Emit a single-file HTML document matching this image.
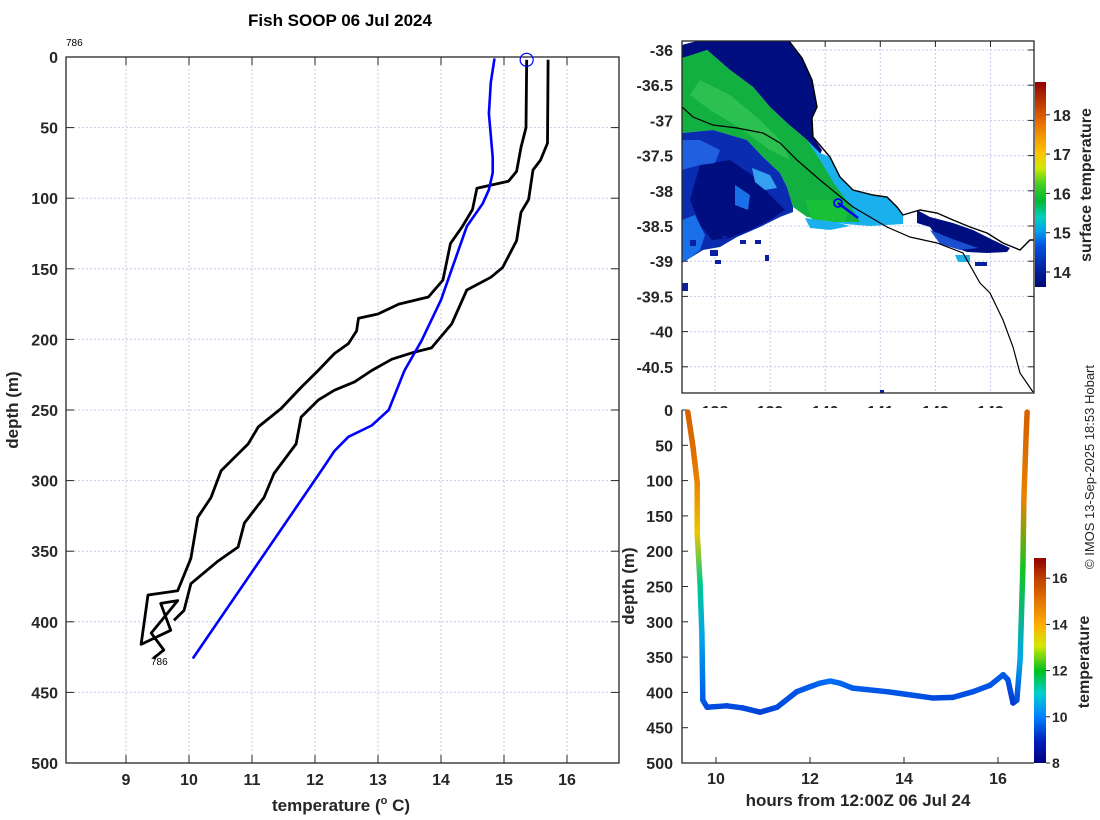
<!DOCTYPE html>
<html><head><meta charset="utf-8">
<style>
html,body{margin:0;padding:0;background:#fff;}
svg{display:block;font-family:"Liberation Sans","DejaVu Sans",sans-serif;}
.tk{font-size:16px;font-weight:bold;fill:#262626;}
.lbl{font-size:17px;font-weight:bold;fill:#262626;}
</style></head>
<body>
<svg id="fig" width="1100" height="820" viewBox="0 0 1100 820">
<defs>
<clipPath id="cl"><rect x="66" y="57" width="553" height="706"/></clipPath>
<clipPath id="cm"><rect x="682" y="41" width="352" height="352"/></clipPath>
<clipPath id="cb"><rect x="682" y="408" width="352" height="355"/></clipPath>
<linearGradient id="gmap" x1="0" y1="1" x2="0" y2="0">
<stop offset="0" stop-color="#000a78"/><stop offset="0.08" stop-color="#00209a"/><stop offset="0.2" stop-color="#0050e0"/><stop offset="0.27" stop-color="#00a0f0"/><stop offset="0.34" stop-color="#00d0c0"/><stop offset="0.42" stop-color="#00b830"/><stop offset="0.5" stop-color="#40d020"/><stop offset="0.58" stop-color="#d0e800"/><stop offset="0.66" stop-color="#ffc000"/><stop offset="0.8" stop-color="#e87000"/><stop offset="1" stop-color="#900000"/>
</linearGradient>
<linearGradient id="gtemp" x1="0" y1="1" x2="0" y2="0">
<stop offset="0" stop-color="#000080"/><stop offset="0.11" stop-color="#0020c0"/><stop offset="0.225" stop-color="#0080ff"/><stop offset="0.34" stop-color="#00d0d0"/><stop offset="0.45" stop-color="#00c020"/><stop offset="0.57" stop-color="#d0e800"/><stop offset="0.67" stop-color="#ffb000"/><stop offset="0.8" stop-color="#e07000"/><stop offset="0.9" stop-color="#c04000"/><stop offset="1" stop-color="#900000"/>
</linearGradient>
</defs>
<text x="340" y="26" text-anchor="middle" style="font-size:17px;font-weight:bold">Fish SOOP 06 Jul 2024</text>
<g id="left"></g>
<g id="map"></g>
<g id="bot"></g>
<text transform="translate(1094,467) rotate(-90)" text-anchor="middle" style="font-size:13px;fill:#262626">© IMOS 13-Sep-2025 18:53 Hobart</text>
</svg>
<script>
// ---------- Left profile data ----------
const xTicksL = [9,10,11,12,13,14,15,16];
const yTicksL = [0,50,100,150,200,250,300,350,400,450,500];
const blueT = [14.85,14.79,14.76,14.82,14.82,14.76,14.66,14.41,14.22,14.0,13.69,13.42,13.17,12.9,12.53,12.31,12.13,10.06];
const blueD = [1,18,40,71,82,94,104,120,144,172,201,222,250,261,269,279,291,426];
const blackAT = [15.36,15.35,15.27,15.2,15.07,14.57,14.5,14.34,14.15,14.03,13.8,13.33,13.0,12.69,12.66,12.53,12.31,12.05,11.78,11.46,11.1,10.94,10.51,10.35,10.14,10.03,9.82,9.35,9.24,9.71,9.55,9.82,9.4,9.6,9.43];
const blackAD = [2,50,64,81,88,93,108,120,132,158,170,175,182,185,194,203,210,222,234,249,262,274,293,312,326,355,378,381,416,406,387,385,408,420,426];
const blackBT = [15.7,15.69,15.58,15.46,15.39,15.27,15.2,14.98,14.79,14.41,14.17,13.85,13.58,13.22,12.9,12.63,12.31,12.05,11.78,11.7,11.35,11.19,10.88,10.78,10.46,10.03,9.92,9.76];
const blackBD = [2,61,73,80,101,110,130,149,156,165,189,206,209,214,222,230,236,243,255,274,295,312,330,347,357,373,392,399];
const markerT = [15.36], markerD = [2];
// ---------- Map data ----------
const lonTicks = [138,139,140,141,142,143];
const latTicks = [-36,-36.5,-37,-37.5,-38,-38.5,-39,-39.5,-40,-40.5];
const sstTicks = [14,15,16,17,18];
// ---------- Time-depth data ----------
const hours = [9.40,9.51,9.60,9.60,9.66,9.70,9.72,9.81,10.23,10.57,10.94,11.30,11.72,12.0,12.21,12.43,12.64,12.91,13.64,14.19,14.62,15.04,15.47,15.83,16.11,16.21,16.32,16.40,16.47,16.53,16.55,16.60,16.62];
const depths = [3,52,103,174,245,316,411,421,419,422,428,421,399,392,387,384,387,394,399,404,408,407,399,390,375,382,415,411,354,222,127,33,3];
const temps = [15.3,15.1,14.7,13.6,11.4,10.5,9.6,9.4,9.4,9.4,9.3,9.4,9.5,9.6,9.7,9.8,9.7,9.6,9.5,9.5,9.4,9.4,9.5,9.5,9.6,9.5,9.2,9.4,10.5,12.1,14.7,15.2,15.3];
const hourTicks = [10,12,14,16];
const depthTicksB = [0,50,100,150,200,250,300,350,400,450,500];
const tempTicks = [8,10,12,14,16];

const NS='http://www.w3.org/2000/svg';
function el(parent,tag,attrs,text){const e=document.createElementNS(NS,tag);for(const k in attrs)e.setAttribute(k,attrs[k]);if(text!==undefined)e.textContent=text;parent.appendChild(e);return e;}

// ===== Left panel =====
const L=document.getElementById('left');
const xL=t=>189+(t-10)*63.0, yL=d=>57+d*1.412;
el(L,'rect',{x:66,y:57,width:553,height:706,fill:'#fff'});
xTicksL.forEach(t=>{
  const g=el(L,'line',{x1:xL(t),x2:xL(t),y1:57,y2:763,stroke:'#c5cbe8','stroke-width':1,'stroke-dasharray':'2,2'});
  
  
  el(L,'line',{x1:xL(t),x2:xL(t),y1:57,y2:65,stroke:'#262626'});
  el(L,'line',{x1:xL(t),x2:xL(t),y1:763,y2:755,stroke:'#262626'});
  const tx=el(L,'text',{x:xL(t),y:785,'text-anchor':'middle',class:'tk'},String(t));
  
  
});
yTicksL.forEach(d=>{
  if(d>0&&d<500){const g=el(L,'line',{x1:66,x2:619,y1:yL(d),y2:yL(d),stroke:'#c5cbe8','stroke-width':1,'stroke-dasharray':'2,2'});
  
  }
  el(L,'line',{x1:66,x2:74,y1:yL(d),y2:yL(d),stroke:'#262626'});
  el(L,'line',{x1:619,x2:611,y1:yL(d),y2:yL(d),stroke:'#262626'});
  const tx=el(L,'text',{x:58,y:yL(d)+6,'text-anchor':'end',class:'tk'},String(d));
  
  
});
el(L,'rect',{x:66,y:57,width:553,height:706,fill:'none',stroke:'#262626','stroke-width':1.3});
function poly(T,D){return T.map((t,i)=>xL(t).toFixed(1)+','+yL(D[i]).toFixed(1)).join(' ');}
const gl=el(L,'g',{'clip-path':'url(#cl)'});
const pa=el(gl,'polyline',{points:poly(blackAT,blackAD),fill:'none',stroke:'#000','stroke-width':2.8,'stroke-linejoin':'round'});


const pb=el(gl,'polyline',{points:poly(blackBT,blackBD),fill:'none',stroke:'#000','stroke-width':2.8,'stroke-linejoin':'round'});


const pbl=el(gl,'polyline',{points:poly(blueT,blueD),fill:'none',stroke:'#0000ff','stroke-width':2.6,'stroke-linejoin':'round'});


const mk=el(L,'circle',{cx:xL(markerT[0]),cy:yL(markerD[0]),r:6.5,fill:'none',stroke:'#0000ff','stroke-width':1.2});


el(L,'text',{x:66,y:46,style:'font-size:10px'},'786');
el(L,'text',{x:151,y:665,style:'font-size:10px'},'786');
const xl=el(L,'text',{x:341,y:811,'text-anchor':'middle',class:'lbl'});
xl.innerHTML='temperature (<tspan dy="-7" style="font-size:11px">o</tspan><tspan dy="7"> C)</tspan>';


const yl=el(L,'text',{transform:'translate(18,410) rotate(-90)','text-anchor':'middle',class:'lbl'},'depth (m)');



// ===== Map =====
const M=document.getElementById('map');
const xM=lon=>715+(lon-138)*55.1, yM=lat=>50+(-36-lat)*70.4;
el(M,'rect',{x:682,y:41,width:352,height:352,fill:'#fff'});
lonTicks.forEach(l=>{el(M,'line',{x1:xM(l),x2:xM(l),y1:41,y2:393,stroke:'#c5cbe8','stroke-dasharray':'2,2'});
  el(M,'line',{x1:xM(l),x2:xM(l),y1:41,y2:47,stroke:'#262626'});
  const tx=el(M,'text',{x:xM(l),y:417,'text-anchor':'middle',class:'tk'},String(l));
  
  });
latTicks.forEach(l=>{el(M,'line',{x1:682,x2:1034,y1:yM(l),y2:yM(l),stroke:'#c5cbe8','stroke-dasharray':'2,2'});
  el(M,'line',{x1:1034,x2:1028,y1:yM(l),y2:yM(l),stroke:'#262626'});
  el(M,'line',{x1:682,x2:688,y1:yM(l),y2:yM(l),stroke:'#262626'});
  const tx=el(M,'text',{x:673,y:yM(l)+6,'text-anchor':'end',class:'tk'},String(l));
  
  });
const gm=el(M,'g',{'clip-path':'url(#cm)'});
const blobs=[
 // top navy region
 ['#000e80','697,41 789,41 802,58 812,80 817,107 812,118 813,137 822,150 820,155 807,140 787,123 770,107 753,87 730,70 707,50 690,56 682,58 682,45'],
 // coastal light-blue strip
 ['#1ab0ee','807,140 820,153 830,157 840,177 853,190 873,195 887,197 897,207 903,215 903,224 870,226 845,224 833,222 815,190 800,160'],
 // green band
 ['#12b040','682,58 707,50 730,70 753,87 770,107 787,123 807,140 820,160 835,185 850,205 860,222 833,222 807,217 793,207 787,187 780,173 763,157 747,140 713,130 682,133'],
 ['#2cc050','700,80 730,95 760,120 780,140 790,160 770,150 740,128 710,110 690,95'],
 // lower-left dark region
 ['#0a2cb0','682,133 713,130 747,140 763,157 780,173 787,187 793,207 793,212 780,217 760,227 737,237 720,247 703,250 682,263'],
 ['#000e80','700,165 730,160 752,175 770,195 785,210 770,220 750,230 730,238 712,240 700,225 690,200'],
 ['#2060e0','682,140 700,140 720,150 715,163 700,165 682,170'],
 ['#35a0f0','752,168 770,175 777,188 765,190 755,182'],
 ['#1a70e8','682,220 695,215 705,235 700,250 690,258 682,262'],
 ['#1a70e8','735,185 750,195 748,210 735,205'],
 ['#18c038','805,200 830,200 848,212 845,222 812,220'],
 ['#1ab0ee','805,218 835,222 850,226 830,230 810,228'],
 // east navy patch
 ['#000e80','917,210 930,217 953,223 973,230 993,240 1010,248 1007,252 987,253 967,252 953,247 937,237 930,227 917,223'],
 ['#1a50d0','930,230 955,240 978,248 960,250 940,244'],
 ['#20b0e8','955,255 970,255 970,262 958,262']
];
blobs.forEach(b=>{const p=el(gm,'polygon',{points:b[1],fill:b[0]});
  
  });
[[710,250,8,6],[740,240,6,4],[755,240,6,4],[765,255,4,6],[682,283,6,8],[880,390,4,4],[975,262,12,4],[715,260,6,4],[690,240,6,6],[722,236,5,5]].forEach(r=>el(gm,'rect',{x:r[0],y:r[1],width:r[2],height:r[3],fill:'#0a20a0'}));
const coast=el(gm,'polyline',{points:'789,41 802,58 812,80 817,107 812,118 813,137 830,157 840,177 853,190 873,195 887,197 897,207 903,215 913,212 920,210 937,213 953,220 970,227 987,233 1003,243 1020,250 1030,240 1035,240',fill:'none',stroke:'#000','stroke-width':1.4});


const iso=el(gm,'polyline',{points:'682,107 693,117 713,125 737,128 763,133 780,143 797,160 820,180 853,207 887,227 910,237 937,243 963,253 980,283 990,293 1003,320 1013,347 1020,373 1033,392',fill:'none',stroke:'#000','stroke-width':1.2});


const trk=el(gm,'line',{x1:838,y1:203,x2:858,y2:218,stroke:'#0000ff','stroke-width':2.5});


el(gm,'circle',{cx:838,cy:203,r:4,fill:'none',stroke:'#0000ff','stroke-width':1.8});
el(M,'rect',{x:682,y:41,width:352,height:352,fill:'none',stroke:'#262626','stroke-width':1.3});
const yS=v=>272-(v-14)*39.3;
const cbm=el(M,'rect',{x:1035,y:82,width:11,height:205,fill:'url(#gmap)'});


sstTicks.forEach(v=>{el(M,'line',{x1:1046,x2:1050,y1:yS(v),y2:yS(v),stroke:'#262626'});
  const tx=el(M,'text',{x:1053,y:yS(v)+6,class:'tk'},String(v));
  
  });
el(M,'text',{transform:'translate(1091,185) rotate(-90)','text-anchor':'middle',class:'lbl',style:'font-size:16px'},'surface temperature');

// ===== Bottom time-depth =====
const B=document.getElementById('bot');
const xB=h=>716+(h-10)*47.0, yB=d=>410+d*0.706;
el(B,'rect',{x:682,y:408,width:352,height:355,fill:'#fff'});
hourTicks.forEach(h=>{el(B,'line',{x1:xB(h),x2:xB(h),y1:763,y2:757,stroke:'#262626'});
  const tx=el(B,'text',{x:xB(h),y:784,'text-anchor':'middle',class:'tk'},String(h));
  
  });
depthTicksB.forEach(d=>{el(B,'line',{x1:682,x2:688,y1:yB(d),y2:yB(d),stroke:'#262626'});
  const tx=el(B,'text',{x:673,y:yB(d)+6,'text-anchor':'end',class:'tk'},String(d));
  
  });
el(B,'polyline',{points:'682,410 682,763 1034,763',fill:'none',stroke:'#262626','stroke-width':1.3});
const stops=[[8,[0,0,128]],[9,[0,40,200]],[10,[0,128,255]],[11,[0,208,208]],[12,[0,192,32]],[13,[208,232,0]],[14,[255,176,0]],[15,[224,112,0]],[16,[192,64,0]],[17,[144,0,0]]];
function cmap(v){v=Math.max(8,Math.min(17,v));for(let i=0;i<stops.length-1;i++){const a=stops[i],b=stops[i+1];if(v<=b[0]){const f=(v-a[0])/(b[0]-a[0]);return 'rgb('+a[1].map((c,k)=>Math.round(c+(b[1][k]-c)*f)).join(',')+')';}}return 'rgb(144,0,0)';}
const defs=document.querySelector('defs');
const gb=el(B,'g',{'clip-path':'url(#cb)'});
for(let i=0;i<hours.length-1;i++){
  const x1=xB(hours[i]),y1=yB(depths[i]),x2=xB(hours[i+1]),y2=yB(depths[i+1]);
  const lg=el(defs,'linearGradient',{id:'sg'+i,gradientUnits:'userSpaceOnUse',x1:x1,y1:y1,x2:x2+0.01,y2:y2+0.01});
  el(lg,'stop',{offset:0,'stop-color':cmap(temps[i])});
  el(lg,'stop',{offset:1,'stop-color':cmap(temps[i+1])});
  const s=el(gb,'line',{x1:x1,y1:y1,x2:x2,y2:y2,stroke:'url(#sg'+i+')','stroke-width':5.5,'stroke-linecap':'round'});
  
  
}
const yT=v=>763-(v-8)*23.1;
const cbt=el(B,'rect',{x:1034,y:558,width:12,height:205,fill:'url(#gtemp)'});


tempTicks.forEach(v=>{el(B,'line',{x1:1046,x2:1050,y1:yT(v),y2:yT(v),stroke:'#262626'});
  const tx=el(B,'text',{x:1052,y:yT(v)+5,class:'tk',style:'font-size:14px'},String(v));
  
  });
el(B,'text',{transform:'translate(1089,662) rotate(-90)','text-anchor':'middle',class:'lbl',style:'font-size:16px'},'temperature');
const bx=el(B,'text',{x:858,y:806,'text-anchor':'middle',class:'lbl'},'hours from 12:00Z 06 Jul 24');


const by=el(B,'text',{transform:'translate(634,586) rotate(-90)','text-anchor':'middle',class:'lbl'},'depth (m)');


</script>
</body></html>
